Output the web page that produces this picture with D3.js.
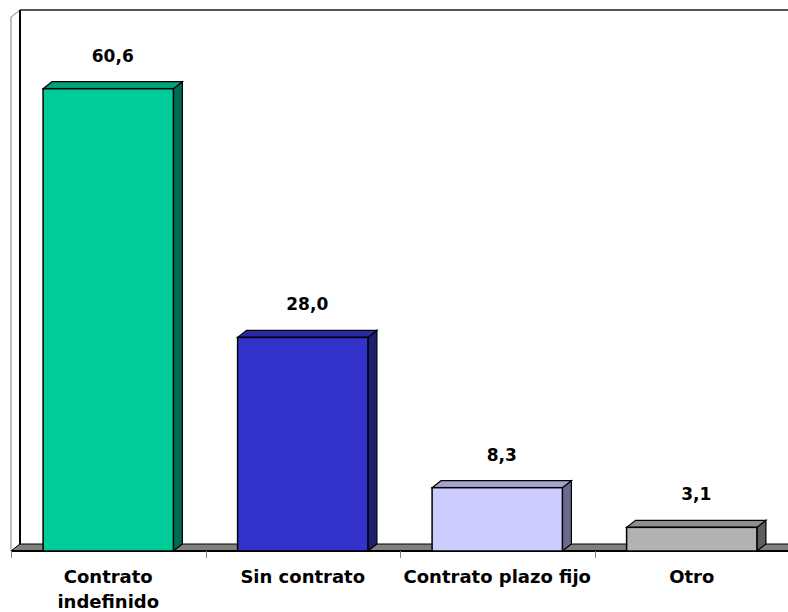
<!DOCTYPE html>
<head>
<meta charset="utf-8">
<style>
body { margin: 0; background: #fff; }
svg { display: block; }
text { font-family: "DejaVu Sans", Verdana, sans-serif; font-weight: bold; fill: #000; }
</style>
<script src="https://d3js.org/d3.v7.min.js"></script>
</head>
<body>
<script>
  const width = 788;
  const height = 612;

  // data
  const categories = ["Contrato indefinido", "Sin contrato", "Contrato plazo fijo", "Otro"];
  const catLines = [["Contrato", "indefinido"], ["Sin contrato"], ["Contrato plazo fijo"], ["Otro"]];
  const values = [60.6, 28.0, 8.3, 3.1];
  const frontColors = ["#00CC99", "#3333CC", "#CCCCFF", "#B2B2B2"];
  const topColors = ["#00A37A", "#2929A3", "#A3A3CC", "#8E8E8E"];
  const sideColors = ["#006B50", "#1F1F70", "#6B6B8F", "#5E5E5E"];

  const dx = 9, dy = 7;

  const x = d3.scaleBand().domain(categories).range([11, 789]);
  const y = d3.scaleLinear().domain([0, 70]).range([551, 17]);
  const barW = x.bandwidth() * 0.67;

  const fmt = v => d3.format(".1f")(v).replace(".", ",");

  const svg = d3.select("body").append("svg")
    .attr("width", width)
    .attr("height", height);

  const x0 = x.range()[0], x1 = x.range()[1];
  const yb = y(0), yt = y(70);

  // side wall
  svg.append("path")
    .attr("d", `M${x0},${yb}L${x0},${yt}L${x0 + dx},${yt - dy}L${x0 + dx},${yb - dy}Z`)
    .attr("fill", "#fff").attr("stroke", "#808080").attr("stroke-width", 1);
  // back wall edges
  svg.append("line")
    .attr("x1", x0 + dx).attr("x2", x1).attr("y1", yt - dy).attr("y2", yt - dy)
    .attr("stroke", "#555").attr("stroke-width", 2);
  svg.append("line")
    .attr("x1", x0 + dx).attr("x2", x0 + dx).attr("y1", yt - dy).attr("y2", yb - dy)
    .attr("stroke", "#000").attr("stroke-width", 2);

  // floor
  svg.append("path")
    .attr("d", `M${x0},${yb}L${x0 + dx},${yb - dy}L${x1 + dx},${yb - dy}L${x1},${yb}Z`)
    .attr("fill", "#808080").attr("stroke", "#000").attr("stroke-width", 1);
  svg.append("line")
    .attr("x1", x0).attr("x2", x1).attr("y1", yb).attr("y2", yb)
    .attr("stroke", "#000").attr("stroke-width", 2);

  // category ticks
  const ticks = categories.map(c => x(c)).concat([x1]);
  svg.selectAll(".tick").data(ticks).enter().append("line")
    .attr("x1", d => Math.round(d) + 0.5).attr("x2", d => Math.round(d) + 0.5)
    .attr("y1", yb).attr("y2", yb + 7)
    .attr("stroke", "#808080");

  // bars
  const bars = svg.selectAll(".bar").data(values).enter().append("g");
  bars.each(function(v, i) {
    const g = d3.select(this);
    const left = x(categories[i]) + (x.bandwidth() - barW) / 2;
    const right = left + barW;
    const top = y(v);
    g.append("path")
      .attr("d", `M${right},${yb}L${right},${top}L${right + dx},${top - dy}L${right + dx},${yb - dy}Z`)
      .attr("fill", sideColors[i]).attr("stroke", "#000").attr("stroke-width", 1.2);
    g.append("path")
      .attr("d", `M${left},${top}L${left + dx},${top - dy}L${right + dx},${top - dy}L${right},${top}Z`)
      .attr("fill", topColors[i]).attr("stroke", "#000").attr("stroke-width", 1.2);
    g.append("rect")
      .attr("x", left).attr("y", top).attr("width", barW).attr("height", yb - top)
      .attr("fill", frontColors[i]).attr("stroke", "#000").attr("stroke-width", 1.5);
    g.append("text")
      .attr("x", left + barW / 2 + dx / 2)
      .attr("y", top - 27)
      .attr("text-anchor", "middle")
      .style("font-size", "17px")
      .text(fmt(v));
  });

  // category labels
  catLines.forEach((lines, i) => {
    const t = svg.append("text")
      .attr("x", x(categories[i]) + x.bandwidth() / 2)
      .attr("y", 583)
      .attr("text-anchor", "middle")
      .style("font-size", "18px");
    lines.forEach((l, j) => {
      t.append("tspan")
        .attr("x", x(categories[i]) + x.bandwidth() / 2)
        .attr("dy", j === 0 ? 0 : 25)
        .text(l);
    });
  });
</script>
</body>
</html>
